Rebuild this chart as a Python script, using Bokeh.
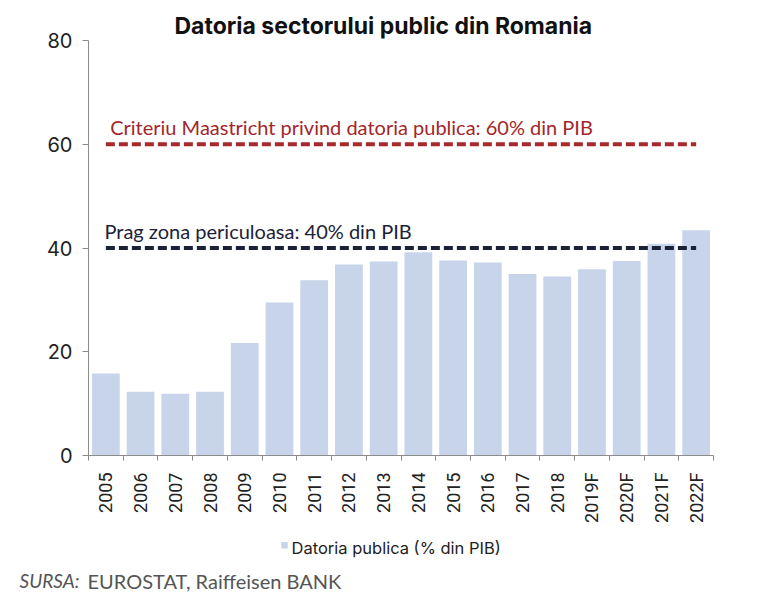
import math
from bokeh.plotting import figure
from bokeh.layouts import column
from bokeh.models import Range1d, FixedTicker, Label
from bokeh.embed import file_html
from bokeh.resources import INLINE

# Public debt of Romania, % of GDP
years = ["2005", "2006", "2007", "2008", "2009", "2010", "2011", "2012", "2013",
         "2014", "2015", "2016", "2017", "2018", "2019F", "2020F", "2021F", "2022F"]
debt = [15.8, 12.3, 11.9, 12.3, 21.7, 29.5, 33.8, 36.8, 37.4,
        39.2, 37.6, 37.2, 35.0, 34.5, 35.9, 37.5, 40.8, 43.4]

maastricht_limit = 60
danger_threshold = 40
y_ticks = [0, 20, 40, 60, 80]

BAR_COLOR = "#c7d4ea"
xs = list(range(len(years)))

p = figure(
    width=768, height=530,
    frame_width=625, frame_height=415,
    min_border_left=88, min_border_right=55,
    min_border_top=40, min_border_bottom=75,
    frame_align=False,
    x_range=Range1d(-0.5, len(years) - 0.5),
    y_range=Range1d(0, 80),
    output_backend="svg", toolbar_location=None,
    background_fill_color="white", border_fill_color="white",
)
p.outline_line_color = None
p.grid.visible = False

p.title.text = "Datoria sectorului public din Romania"
p.title.align = "left"
p.title.offset = 86
p.title.standoff = 2
p.title.text_font = "Inter"
p.title.text_font_style = "bold"
p.title.text_font_size = "23px"
p.title.text_color = "#111111"

p.vbar(x=xs, top=debt, width=0.8, bottom=0, fill_color=BAR_COLOR, line_color=None)

# reference lines
p.line([xs[0], xs[-1]], [maastricht_limit] * 2, line_color="#a8292b",
       line_width=4, line_dash="9 4")
p.line([xs[0], xs[-1]], [danger_threshold] * 2, line_color="#1b2238",
       line_width=4, line_dash="9 4")

# y axis
ya = p.yaxis[0]
ya.ticker = FixedTicker(ticks=y_ticks, minor_ticks=[])
ya.axis_line_color = "#8c8c8c"
ya.major_tick_line_color = "#8c8c8c"
ya.major_tick_out = 6
ya.major_tick_in = 0
ya.minor_tick_out = 0
ya.minor_tick_in = 0
ya.major_label_standoff = 10
ya.major_label_text_font = "Inter"
ya.major_label_text_font_size = "20px"
ya.major_label_text_color = "#222222"

# x axis: labels at category centres, tick marks at the boundaries
xa = p.xaxis[0]
xa.ticker = FixedTicker(ticks=xs, minor_ticks=[i - 0.5 for i in range(len(years) + 1)])
xa.major_label_overrides = {i: y for i, y in enumerate(years)}
xa.major_label_orientation = math.pi / 2
xa.axis_line_color = "#8c8c8c"
xa.major_tick_out = 0
xa.major_tick_in = 0
xa.minor_tick_line_color = "#8c8c8c"
xa.minor_tick_out = 5
xa.minor_tick_in = 0
xa.major_label_standoff = 12
xa.major_label_text_font = "Roboto"
xa.major_label_text_font_size = "18px"
xa.major_label_text_color = "#222222"

# line annotations
p.add_layout(Label(x=0.125, y=63.3,
                   text="Criteriu Maastricht privind datoria publica: 60% din PIB",
                   text_baseline="alphabetic", text_font="Lato",
                   text_font_size="20px", text_color="#a3262a"))
p.add_layout(Label(x=-0.04, y=43.2, text="Prag zona periculoasa: 40% din PIB",
                   text_baseline="alphabetic", text_font="Lato",
                   text_font_size="20px", text_color="#1b2238"))

# footer: legend and source note (pixel coordinates, y measured from the top)
f = figure(
    width=768, height=74, min_border=0, frame_align=False,
    x_range=Range1d(0, 768), y_range=Range1d(74, 0),
    output_backend="svg", toolbar_location=None,
    background_fill_color="white", border_fill_color="white",
)
f.outline_line_color = None
f.grid.visible = False
f.axis.visible = False

f.rect(x=[284], y=[14.8], width=6.5, height=6.5, fill_color=BAR_COLOR, line_color=None)
f.add_layout(Label(x=291, y=17, text="Datoria publica (% din PIB)",
                   text_baseline="alphabetic", text_font="Inter",
                   text_font_size="16.5px", text_color="#222222"))
f.add_layout(Label(x=19, y=50, text="SURSA:", text_font="Lato",
                   text_font_style="italic", text_font_size="19px",
                   text_color="#555555", text_baseline="alphabetic"))
f.add_layout(Label(x=87, y=50, text="EUROSTAT, Raiffeisen BANK", text_font="Lato",
                   text_font_size="20px", text_color="#555555",
                   text_baseline="alphabetic"))

layout = column(p, f, spacing=0)
open("out.html", "w").write(file_html(layout, INLINE))
